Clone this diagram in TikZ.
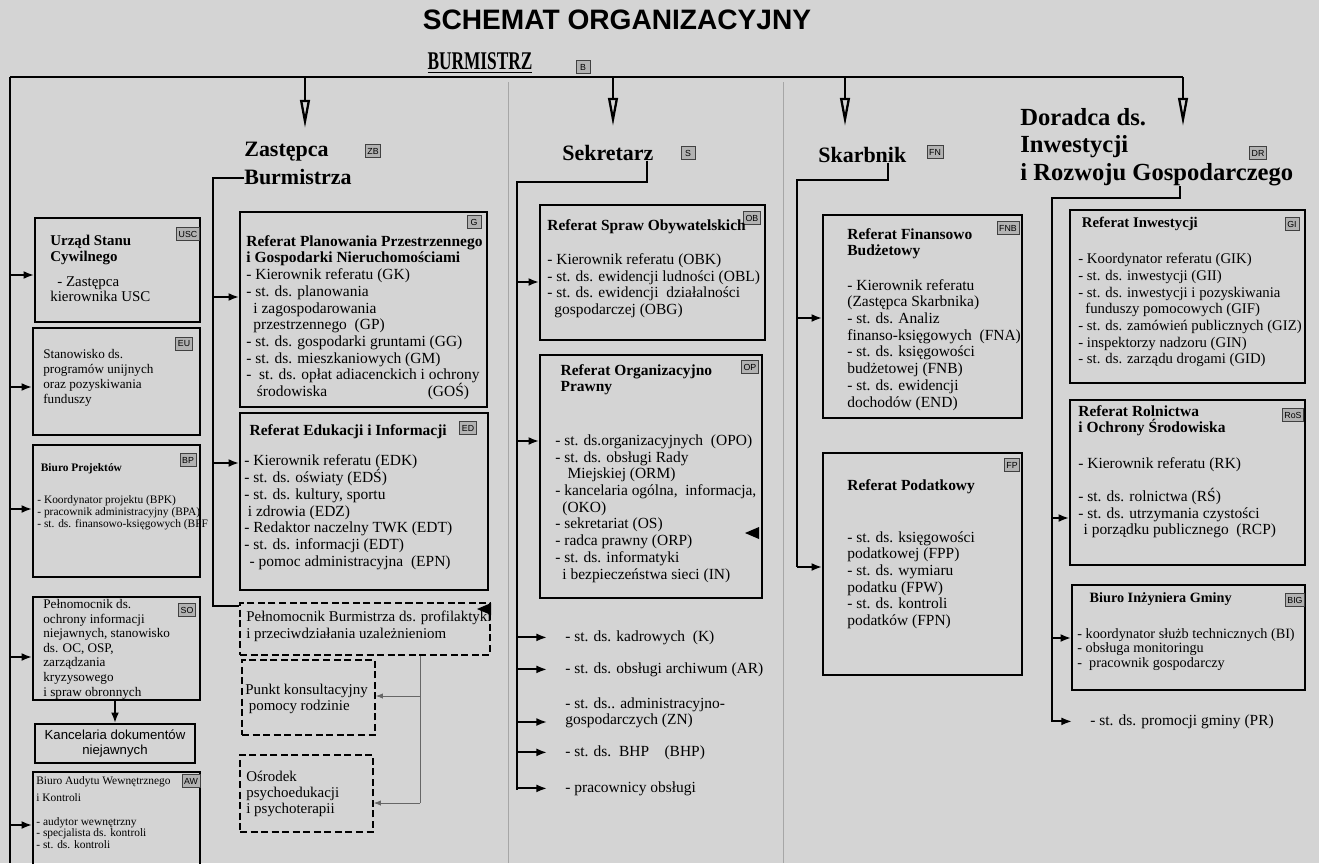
\documentclass[tikz,border=0pt]{standalone}
\usepackage{graphicx}
\usepackage{fontspec}
\setmainfont{Liberation Serif}
\newfontfamily\arialfont{Liberation Sans}
\usetikzlibrary{arrows.meta, fit, calc, positioning}

\definecolor{paper}{gray}{0.83}
\newcommand\txtn{\fontsize{8.8}{9.5}\selectfont}
\newcommand\txts{\fontsize{7.5}{8.5}\selectfont}
\newcommand\txtxs{\fontsize{6.5}{6.6}\selectfont}
\newcommand\txthead{\fontsize{12.5}{16}\selectfont\bfseries}

\tikzset{
  dept/.style={draw, line width=1pt, inner sep=0pt},
  deptdash/.style={dept, dash pattern=on 4pt off 2pt},
  deptext/.style={anchor=north west, align=left, inner sep=0pt, font=\txtn},
  codetag/.style={draw=black!75, line width=0.4pt, fill=black!30, inner sep=1.2pt,
    minimum width=0.28cm, minimum height=0.26cm, font=\fontsize{5}{5}\selectfont\arialfont},
  wire/.style={line width=1.1pt},
  mainbus/.style={line width=1.5pt},
  feedarrow/.style={line width=1.1pt, -{Latex[length=6pt,width=4.5pt]}},
  headarrow/.style={line width=1.3pt, -{Triangle[open,length=16pt,width=5.5pt]}},
  thinwire/.style={line width=0.4pt, black!60},
  thinarrow/.style={thinwire, -{Latex[length=4pt,width=3pt]}},
  colrule/.style={line width=0.4pt, black!35},
}

\begin{document}
\begin{tikzpicture}[x=0.02cm, y=-0.02cm]
\useasboundingbox (0,0) rectangle (1319,863);
\clip (0,0) rectangle (1319,863);
\fill[paper] (0,0) rectangle (1319,863);
\draw[colrule] (508,82) -- (508,863);
\draw[colrule] (783,82) -- (783,863);

% naglowek
\node[font=\arialfont\bfseries\fontsize{16}{16}\selectfont] (title) at (617,20) {SCHEMAT ORGANIZACYJNY};
\node[font=\bfseries\fontsize{14.5}{14.5}\selectfont] (bur) at (480,63) {\scalebox{0.68}[1]{\underline{BURMISTRZ}}};
\node[codetag] (bur-tag) at (583,67) {B};

\coordinate (bus-w) at (10,77);
\coordinate (bus-e) at (1183,77);
\draw[mainbus] (bus-w) -- (bus-e);
\draw[mainbus] (bus-w) -- (bus-w |- 0,863);

\coordinate (zast-in) at (305,128);
\coordinate (sekr-in) at (613,126);
\coordinate (skarb-in) at (845,126);
\coordinate (dor-in) at (1183,126);
\draw[headarrow] (zast-in |- bus-w) -- (zast-in);
\draw[headarrow] (sekr-in |- bus-w) -- (sekr-in);
\draw[headarrow] (skarb-in |- bus-w) -- (skarb-in);
\draw[headarrow] (dor-in |- bus-w) -- (dor-in);

% lewa kolumna
\node[dept, fit={(35,218) (200,322)}] (usc) {};
\node[codetag] at (188,234) {USC};
\node[deptext, font=\fontsize{8.5}{9}\selectfont] (usc-t) at (50,235) {\textbf{Urząd Stanu}\\\textbf{Cywilnego}\\[5pt]\hspace*{4pt}- Zastępca\\kierownika USC};

\node[dept, fit={(33,328) (200,435)}] (eu) {};
\node[codetag] at (184,344) {EU};
\node[deptext, font=\txts] (eu-t) at (43,349) {Stanowisko ds.\\programów unijnych\\oraz pozyskiwania\\funduszy};

\node[dept, fit={(33,445) (200,577)}] (bp) {};
\node[codetag] at (188,460) {BP};
\node[deptext, font=\txtxs] (bp-t) at (37,463) {\hspace*{2pt}\textbf{Biuro Projektów}\\[12pt]- Koordynator projektu (BPK)\\- pracownik administracyjny (BPA)\\- st. ds. finansowo-księgowych (BPF};

\node[dept, fit={(33,597) (200,700)}] (so) {};
\node[codetag] at (187,610) {SO};
\node[deptext, font=\fontsize{7.5}{8.3}\selectfont] (so-t) at (43,599) {Pełnomocnik ds.\\ochrony informacji\\niejawnych, stanowisko\\ds. OC, OSP,\\zarządzania\\kryzysowego\\i spraw obronnych};

\node[dept, fit={(35,724) (195,763)}] (kdn) {};
\node[font=\arialfont\fontsize{7.5}{8.5}\selectfont, align=center] (kdn-t) at (kdn) {Kancelaria dokumentów\\niejawnych};
\draw[feedarrow] (so.south -| 115,0) -- (kdn.north -| 115,0);

\node[dept, fit={(33,772) (200,880)}] (aw) {};
\node[codetag] at (191,781) {AW};
\node[deptext, font=\txtxs] (aw-t) at (36,776) {Biuro Audytu Wewnętrznego\\[3pt]i Kontroli\\[7pt]- audytor wewnętrzny\\- specjalista ds. kontroli\\- st. ds. kontroli};

\draw[feedarrow] (bus-w |- 0,275) -- (usc.west |- 0,275);
\draw[feedarrow] (bus-w |- 0,387) -- (eu.west |- 0,387);
\draw[feedarrow] (bus-w |- 0,509) -- (bp.west |- 0,509);
\draw[feedarrow] (bus-w |- 0,657) -- (so.west |- 0,657);
\draw[feedarrow] (bus-w |- 0,825) -- (aw.west |- 0,825);

% Zastepca Burmistrza
\node[deptext, font=\txthead] (zast) at (244,142) {Zastępca\\Burmistrza};
\node[codetag] at (373,151) {ZB};
\coordinate (zast-bus) at (213,178);

\node[dept, fit={(240,212) (487,407)}] (G) {};
\node[codetag] at (474,222) {G};
\node[deptext] (G-t) at (246,235) {\textbf{Referat Planowania Przestrzennego}\\\textbf{i Gospodarki Nieruchomościami}\\- Kierownik referatu (GK)\\- st. ds. planowania\\\hspace*{4pt}i zagospodarowania\\\hspace*{4pt}przestrzennego\ \ (GP)\\- st. ds. gospodarki gruntami (GG)\\- st. ds. mieszkaniowych (GM)\\-\ \ st. ds. opłat adiacenckich i ochrony\\\hspace*{6pt}środowiska\hspace{6.5em}(GOŚ)};
\draw[feedarrow] (zast-bus |- 0,297) -- (G.west |- 0,297);

\node[dept, fit={(240,413) (488,590)}] (ED) {};
\node[codetag] at (468,428) {ED};
\node[deptext] (ED-t) at (244,424) {\hspace*{3pt}\textbf{Referat Edukacji i Informacji}\\[8pt]- Kierownik referatu (EDK)\\- st. ds. oświaty (EDŚ)\\- st. ds. kultury, sportu\\\hspace*{2pt}i zdrowia (EDZ)\\- Redaktor naczelny TWK (EDT)\\- st. ds. informacji (EDT)\\\hspace*{3pt}- pomoc administracyjna\ \ (EPN)};
\draw[feedarrow] (zast-bus |- 0,463) -- (ED.west |- 0,463);

\node[deptdash, fit={(240,603) (490,655)}] (pel) {};
\node[deptext, font=\fontsize{8.5}{9.2}\selectfont] (pel-t) at (246,611) {Pełnomocnik Burmistrza ds. profilaktyki\\i przeciwdziałania uzależnieniom};
\fill (491,603) -- (477,609) -- (491,615) -- cycle;
\draw[wire] (zast.west |- zast-bus) -- (zast-bus) |- ($(pel.north west)+(0,4)$);

\node[deptdash, fit={(242,660) (375,735)}] (pkt) {};
\node[deptext, font=\fontsize{8.5}{9}\selectfont] (pkt-t) at (245,684) {Punkt konsultacyjny\\\hspace*{2pt}pomocy rodzinie};
\node[deptdash, fit={(240,755) (373,832)}] (osr) {};
\node[deptext, font=\fontsize{8.5}{9}\selectfont] (osr-t) at (246,771) {Ośrodek\\psychoedukacji\\i psychoterapii};
\coordinate (pel-bus) at (420,660);
\draw[thinwire] (pel.south -| pel-bus) -- (pel-bus |- 0,803);
\draw[thinarrow] (pel-bus |- 0,696) -- (pkt.east |- 0,696);
\draw[thinarrow] (pel-bus |- 0,803) -- (osr.east |- 0,803);

% Sekretarz
\node[font=\txthead, anchor=base west, inner sep=0pt] (sekr) at (562,160) {Sekretarz};
\node[codetag] at (688,153) {S};
\coordinate (sek-bus) at (517,182);
\draw[wire] (sekr.south -| 647,0) |- (sek-bus) -- (sek-bus |- 0,790);

\node[dept, fit={(540,205) (765,340)}] (OB) {};
\node[codetag] at (752,218) {OB};
\node[deptext] (OB-t) at (547,219) {\textbf{Referat Spraw Obywatelskich}\\[10pt]- Kierownik referatu (OBK)\\- st. ds. ewidencji ludności (OBL)\\- st. ds. ewidencji\ \ działalności\\\hspace*{4pt}gospodarczej (OBG)};
\draw[feedarrow] (sek-bus |- 0,282) -- (OB.west |- 0,282);

\node[dept, fit={(540,355) (762,598)}] (OP) {};
\node[codetag] at (750,367) {OP};
\node[deptext] (OP-t) at (555,364) {\hspace*{3pt}\textbf{Referat Organizacyjno}\\\hspace*{3pt}\textbf{Prawny}\\[21pt]- st. ds.organizacyjnych\ \ (OPO)\\- st. ds. obsługi Rady\\\hspace*{7pt}Miejskiej (ORM)\\- kancelaria ogólna,\ \ informacja,\\\hspace*{4pt}(OKO)\\- sekretariat (OS)\\- radca prawny (ORP)\\- st. ds. informatyki\\\hspace*{4pt}i bezpieczeństwa sieci (IN)};
\draw[feedarrow] (sek-bus |- 0,441) -- (OP.west |- 0,441);
\fill (759,527) -- (745,533) -- (759,539) -- cycle;

\node[deptext] (kadr) at (565,630) {- st. ds. kadrowych\ \ (K)};
\node[deptext] (arch) at (565,662) {- st. ds. obsługi archiwum (AR)};
\node[deptext] (zn) at (565,697) {- st. ds.. administracyjno-\\gospodarczych (ZN)};
\node[deptext] (bhp) at (565,745) {- st. ds.\ \ BHP\ \ \ \ (BHP)};
\node[deptext] (obsl) at (565,781) {- pracownicy obsługi};
\draw[feedarrow] (sek-bus |- kadr.west) -- ($(kadr.west)+(-18,0)$);
\draw[feedarrow] (sek-bus |- arch.west) -- ($(arch.west)+(-18,0)$);
\draw[feedarrow] (sek-bus |- 0,722) -- ($(zn.west |- 0,722)+(-18,0)$);
\draw[feedarrow] (sek-bus |- bhp.west) -- ($(bhp.west)+(-18,0)$);
\draw[feedarrow] (sek-bus |- obsl.west) -- ($(obsl.west)+(-18,0)$);

% Skarbnik
\node[font=\txthead, anchor=base west, inner sep=0pt] (skarb) at (818,162) {Skarbnik};
\node[codetag] at (935,152) {FN};
\coordinate (skb-bus) at (797,180);
\draw[wire] (skarb.south -| 888,0) |- (skb-bus) -- (skb-bus |- 0,567);

\node[dept, fit={(823,215) (1022,418)}] (FNB) {};
\node[codetag] at (1008,228) {FNB};
\node[deptext] (FNB-t) at (847,228) {\textbf{Referat Finansowo}\\\textbf{Budżetowy}\\[10pt]- Kierownik referatu\\(Zastępca Skarbnika)\\- st. ds. Analiz\\finanso-księgowych\ \ (FNA)\\- st. ds. księgowości\\budżetowej (FNB)\\- st. ds. ewidencji\\dochodów (END)};
\draw[feedarrow] (skb-bus |- 0,318) -- (FNB.west |- 0,318);

\node[dept, fit={(823,453) (1022,675)}] (FP) {};
\node[codetag] at (1012,465) {FP};
\node[deptext] (FP-t) at (847,479) {\textbf{Referat Podatkowy}\\[20pt]- st. ds. księgowości\\podatkowej (FPP)\\- st. ds. wymiaru\\podatku (FPW)\\- st. ds. kontroli\\podatków (FPN)};
\draw[feedarrow] (skb-bus |- 0,567) -- (FP.west |- 0,567);

% Doradca
\node[deptext, font=\fontsize{14}{15.6}\selectfont\bfseries] (dor) at (1020,108) {Doradca ds.\\Inwestycji\\i Rozwoju Gospodarczego};
\node[codetag] at (1258,153) {DR};
\coordinate (dor-bus) at (1052,198);
\draw[wire] (dor.south -| 1180,0) |- (dor-bus) -- (dor-bus |- 0,722);

\node[dept, fit={(1070,210) (1305,383)}] (GI) {};
\node[codetag] at (1292,224) {GI};
\node[deptext, font=\fontsize{8.4}{9.5}\selectfont] (GI-t) at (1078,217) {\hspace*{2pt}\textbf{Referat Inwestycji}\\[11pt]- Koordynator referatu (GIK)\\- st. ds. inwestycji (GII)\\- st. ds. inwestycji i pozyskiwania\\\hspace*{4pt}funduszy pomocowych (GIF)\\- st. ds. zamówień publicznych (GIZ)\\- inspektorzy nadzoru (GIN)\\- st. ds. zarządu drogami (GID)};

\node[dept, fit={(1070,400) (1305,565)}] (RoS) {};
\node[codetag] at (1293,415) {RoS};
\node[deptext] (RoS-t) at (1078,405) {\textbf{Referat Rolnictwa}\\\textbf{i Ochrony Środowiska}\\[11pt]- Kierownik referatu (RK)\\[9pt]- st. ds. rolnictwa (RŚ)\\- st. ds. utrzymania czystości\\\hspace*{3pt}i porządku publicznego\ \ (RCP)};
\draw[feedarrow] (dor-bus |- 0,518) -- (RoS.west |- 0,518);

\node[dept, fit={(1072,585) (1305,690)}] (BIG) {};
\node[codetag] at (1295,600) {BIG};
\node[deptext, font=\fontsize{8.1}{8.4}\selectfont] (BIG-t) at (1077,592) {\hspace*{7pt}\textbf{Biuro Inżyniera Gminy}\\[12pt]- koordynator służb technicznych (BI)\\- obsługa monitoringu\\-\ \ pracownik gospodarczy};
\draw[feedarrow] (dor-bus |- 0,638) -- (BIG.west |- 0,638);

\node[deptext] (pr) at (1090,714) {- st. ds. promocji gminy (PR)};
\draw[feedarrow] (dor-bus |- pr.west) -- ($(pr.west)+(-18,0)$);
\end{tikzpicture}
\end{document}
